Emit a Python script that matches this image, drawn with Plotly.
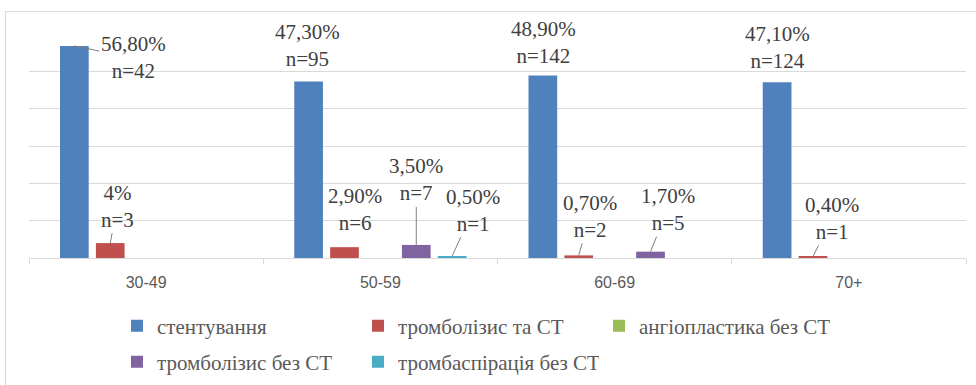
import plotly.graph_objects as go

categories = ["30-49", "50-59", "60-69", "70+"]
series_names = ["стентування", "тромболізис та СТ", "ангіопластика без СТ",
                "тромболізис без СТ", "тромбаспірація без СТ"]
stent = [56.8, 47.3, 48.9, 47.1]
thromb_st = [4.0, 2.9, 0.7, 0.4]
angio = [0, 0, 0, 0]
thromb_no = [0, 3.5, 1.7, 0]
aspir = [0, 0.5, 0, 0]
values = [stent, thromb_st, angio, thromb_no, aspir]

stent_n = [42, 95, 142, 124]
thromb_st_n = [3, 6, 2, 1]
angio_n = [None, None, None, None]
thromb_no_n = [None, 7, 5, None]
aspir_n = [None, 1, None, None]
counts = [stent_n, thromb_st_n, angio_n, thromb_no_n, aspir_n]

colors = ["#4f81bd", "#c0504d", "#9bbb59", "#8064a2", "#4bacc6"]
legend_ids = ["legend", "legend", "legend", "legend2", "legend2"]

# label placement (pixel offsets of text centre from bar top) and leader-line flag
label_pos = {
    (0, 0): (59, 12, True),
    (1, 0): (7, -37, True),
    (0, 1): (-1, -36, False),
    (1, 1): (11, -38, False),
    (3, 1): (0, -65, True),
    (4, 1): (21, -46, True),
    (0, 2): (1, -33, False),
    (1, 2): (11, -39, True),
    (3, 2): (17, -42, True),
    (0, 3): (0, -35, False),
    (1, 3): (19, -38, True),
}

SERIF = "Liberation Serif"
SANS = "Liberation Sans"

W, H = 976, 385
ML, MR, MT, MB = 29, 10, 34, 127
BARGAP = 0.234
plot_w = W - ML - MR
slot = plot_w / len(categories) * (1 - BARGAP) / len(series_names)

fig = go.Figure()
for i, name in enumerate(series_names):
    fig.add_trace(go.Bar(
        x=categories, y=values[i], name=name,
        marker=dict(color=colors[i], line=dict(width=0)),
        legend=legend_ids[i], hoverinfo="skip",
    ))


def fmt(v):
    if float(v).is_integer():
        return f"{int(v)}%"
    return f"{v:.2f}".replace(".", ",") + "%"


annotations = []
for (si, ci), (ax, ay, arrow) in label_pos.items():
    v = values[si][ci]
    n = counts[si][ci]
    text = f"{fmt(v)}<br>n={n}"
    off = (si - 2) * slot
    a = dict(x=categories[ci], y=v, xref="x", yref="y", text=text,
             font=dict(family=SERIF, size=21, color="#404040"),
             align="center")
    if arrow:
        a.update(showarrow=True, arrowhead=0, arrowwidth=1, arrowcolor="#7f7f7f",
                 ax=ax, ay=ay, axref="pixel", ayref="pixel", xshift=off,
                 standoff=0, startstandoff=0)
    else:
        a.update(showarrow=False, xshift=off + ax, yshift=-ay)
    annotations.append(a)

plot_h = H - MT - MB
border = dict(type="rect", xref="paper", yref="paper",
              x0=(5.5 - ML) / plot_w, x1=1.2,
              y0=-1.0, y1=(H - MB - 11.5) / plot_h,
              line=dict(color="#d9d9d9", width=1.2), layer="below")

leg_font = dict(family=SERIF, size=21, color="#595959")
leg_x = (157 - 40 - ML) / plot_w

fig.update_layout(
    width=W, height=H,
    margin=dict(l=ML, r=MR, t=MT, b=MB, autoexpand=False),
    paper_bgcolor="white", plot_bgcolor="white",
    font=dict(family=SERIF),
    barmode="group", bargap=BARGAP, bargroupgap=0.2,
    showlegend=True,
    legend=dict(orientation="h", x=leg_x, xanchor="left", y=(H - MB - 326) / plot_h,
                yanchor="middle", font=leg_font, entrywidth=196, entrywidthmode="pixels",
                bgcolor="rgba(0,0,0,0)", traceorder="normal"),
    legend2=dict(orientation="h", x=leg_x, xanchor="left", y=(H - MB - 362) / plot_h,
                 yanchor="middle", font=leg_font, entrywidth=196, entrywidthmode="pixels",
                 bgcolor="rgba(0,0,0,0)", traceorder="normal"),
    xaxis=dict(showline=True, linecolor="#d9d9d9", linewidth=1,
               ticks="outside", tickson="boundaries", ticklen=5, tickcolor="#d9d9d9",
               tickfont=dict(family=SANS, size=16, color="#595959"),
               ticklabelstandoff=10, showgrid=False, fixedrange=True),
    yaxis=dict(range=[0, 60], dtick=10, showticklabels=False, showgrid=True,
               gridcolor="#d9d9d9", gridwidth=1, zeroline=False, fixedrange=True),
    annotations=annotations,
    shapes=[border],
)

fig.write_html("out.html", config={"displayModeBar": False},
               post_script="document.body.style.margin='0';document.body.style.overflow='hidden';")
